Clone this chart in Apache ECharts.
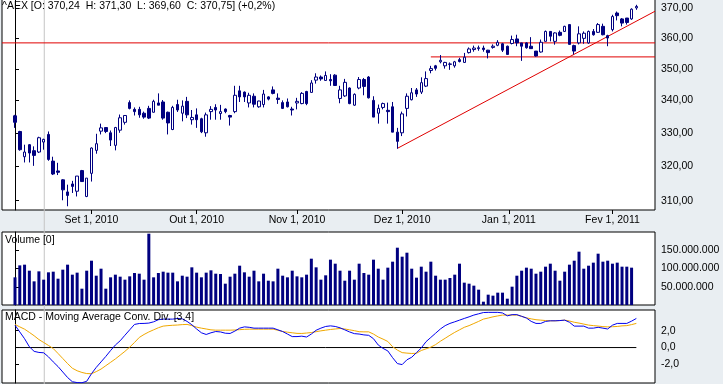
<!DOCTYPE html>
<html><head><meta charset="utf-8">
<script src="https://cdn.jsdelivr.net/npm/echarts@6.0.0/dist/echarts.min.js"></script>
<style>html,body{margin:0;padding:0;background:#e9eef2;}#c{width:723px;height:384px;}</style>
</head><body><div id="c"></div>
<script>
const dates = [
'2010-08-10','2010-08-11','2010-08-12','2010-08-13','2010-08-16','2010-08-17','2010-08-18','2010-08-19','2010-08-20','2010-08-23','2010-08-24','2010-08-25','2010-08-26','2010-08-27','2010-08-30','2010-08-31',
'2010-09-01','2010-09-02','2010-09-03','2010-09-06','2010-09-07','2010-09-08','2010-09-09','2010-09-10','2010-09-13','2010-09-14','2010-09-15','2010-09-16','2010-09-17','2010-09-20','2010-09-21','2010-09-22','2010-09-23','2010-09-24','2010-09-27','2010-09-28','2010-09-29','2010-09-30',
'2010-10-01','2010-10-04','2010-10-05','2010-10-06','2010-10-07','2010-10-08','2010-10-11','2010-10-12','2010-10-13','2010-10-14','2010-10-15','2010-10-18','2010-10-19','2010-10-20','2010-10-21','2010-10-22','2010-10-25','2010-10-26','2010-10-27','2010-10-28','2010-10-29',
'2010-11-01','2010-11-02','2010-11-03','2010-11-04','2010-11-05','2010-11-08','2010-11-09','2010-11-10','2010-11-11','2010-11-12','2010-11-15','2010-11-16','2010-11-17','2010-11-18','2010-11-19','2010-11-22','2010-11-23','2010-11-24','2010-11-25','2010-11-26','2010-11-29','2010-11-30',
'2010-12-01','2010-12-02','2010-12-03','2010-12-06','2010-12-07','2010-12-08','2010-12-09','2010-12-10','2010-12-13','2010-12-14','2010-12-15','2010-12-16','2010-12-17','2010-12-20','2010-12-21','2010-12-22','2010-12-23','2010-12-24','2010-12-27','2010-12-28','2010-12-29','2010-12-30','2010-12-31',
'2011-01-03','2011-01-04','2011-01-05','2011-01-06','2011-01-07','2011-01-10','2011-01-11','2011-01-12','2011-01-13','2011-01-14','2011-01-17','2011-01-18','2011-01-19','2011-01-20','2011-01-21','2011-01-24','2011-01-25','2011-01-26','2011-01-27','2011-01-28','2011-01-31',
'2011-02-01','2011-02-02','2011-02-03','2011-02-04','2011-02-07','2011-02-08'];

const opens = [
335.2,330.4,322.8,326.4,324.6,324.2,327.2,329.5,321.5,318.6,
316.0,312.5,314.8,312.7,318.7,311.2,317.9,324.7,330.5,331.6,
330.0,326.2,330.8,333.2,339.3,337.2,337.2,336.0,337.5,336.3,
339.2,339.5,336.3,331.0,338.7,336.0,339.7,334.0,335.5,334.3,
330.0,336.5,337.8,335.9,337.3,335.3,336.5,343.0,342.6,339.2,
341.3,338.0,338.7,341.1,343.3,340.7,339.3,339.5,337.3,339.2,
339.0,342.8,342.5,346.4,347.4,346.3,346.6,348.0,340.6,341.4,
343.9,338.5,343.9,346.6,347.4,340.0,336.0,337.8,336.9,338.0,
330.2,330.0,337.5,340.2,343.3,342.6,344.5,349.5,351.0,352.3,
351.0,351.6,351.0,353.0,352.1,355.3,356.3,356.6,356.8,356.1,
357.0,357.7,358.2,357.4,358.3,359.8,358.5,358.5,357.4,355.8,
355.5,359.0,362.3,359.0,362.0,362.3,364.6,357.6,358.5,360.0,
358.5,362.3,362.0,364.0,360.9,362.9,368.5,366.5,366.8,366.5,
370.24];
const closes = [
333.2,324.9,324.2,323.9,323.2,328.5,328.0,322.0,317.7,318.2,
313.1,311.5,314.1,317.1,315.5,316.5,325.4,326.7,331.5,330.4,
327.8,331.6,334.6,335.3,337.5,336.5,335.5,334.8,334.5,339.7,
338.5,334.5,333.0,337.8,337.0,338.2,335.5,334.7,334.0,330.3,
335.5,337.2,337.0,336.5,336.5,334.8,341.6,341.1,341.1,341.6,
338.8,339.8,342.0,340.4,342.2,340.3,337.5,338.0,337.0,339.7,
342.2,339.0,345.5,347.4,346.8,347.9,346.2,344.7,343.3,345.7,
339.0,341.9,346.6,344.4,340.8,334.8,337.5,339.0,336.5,330.2,
327.4,335.8,341.3,342.4,342.0,345.6,346.9,350.1,350.2,352.8,
352.1,351.5,352.3,352.4,353.8,356.5,356.8,356.9,356.3,355.3,
357.4,358.7,356.1,354.7,359.6,358.5,357.4,356.9,356.6,354.2,
358.7,362.3,360.7,361.8,361.0,364.0,358.0,355.8,361.5,361.7,
362.3,361.2,364.6,361.2,360.1,367.3,367.6,365.1,365.3,369.8,
370.75];
const highs = [
335.5,330.6,326.4,326.6,325.9,328.8,328.2,330.4,322.8,321.0,
316.2,314.6,315.7,317.1,318.9,316.5,325.6,329.7,332.8,331.6,
330.7,331.8,335.6,335.3,340.0,337.8,338.0,336.5,338.3,340.2,
342.2,340.1,336.5,338.3,340.2,340.0,341.1,337.0,337.5,334.6,
336.2,338.2,338.8,338.6,337.5,335.5,344.6,344.6,342.8,342.4,
342.2,339.9,343.3,341.3,344.4,342.2,340.0,340.6,338.0,340.8,
342.6,343.0,346.4,348.6,347.9,349.2,348.3,348.3,344.6,346.8,
344.1,342.2,347.4,347.1,347.7,341.3,338.7,339.3,339.3,339.5,
331.5,336.5,342.2,343.9,343.9,347.3,349.2,351.0,351.3,354.5,
352.3,352.1,352.6,353.6,355.2,357.0,357.6,357.6,357.6,356.2,
358.0,359.4,358.5,357.6,360.9,361.2,358.5,358.7,360.4,355.8,
359.6,362.6,362.3,362.0,362.6,364.2,364.6,357.9,364.0,362.3,
362.6,363.1,365.1,364.9,361.2,367.9,369.0,366.8,366.8,370.1,
371.30];
const lows = [
331.5,324.6,321.1,321.1,320.1,323.9,324.9,321.6,317.4,317.4,
310.1,308.4,312.2,311.2,315.5,311.0,315.5,323.7,329.5,329.9,
326.0,324.7,330.0,332.5,337.2,335.3,334.6,334.3,334.2,336.2,
338.5,334.0,329.5,330.8,336.4,333.5,334.5,332.5,331.5,329.9,
328.8,334.0,334.0,334.0,336.0,332.2,336.0,339.5,339.5,337.8,
337.8,337.7,337.8,340.0,341.9,338.9,337.3,337.8,335.3,337.2,
338.8,338.5,342.5,345.3,346.2,346.3,344.6,344.6,339.1,341.1,
338.8,338.3,343.5,341.6,340.6,334.8,332.8,337.2,332.8,330.2,
325.2,329.0,335.0,340.0,341.1,342.0,344.2,348.6,349.5,351.8,
350.1,349.7,350.4,352.1,352.0,355.0,355.6,355.9,355.6,353.4,
356.6,357.4,355.5,354.7,358.0,357.4,352.6,356.6,356.6,354.0,
355.3,359.0,359.0,357.9,360.7,362.1,358.0,354.7,358.0,358.2,
358.2,360.9,361.8,361.0,357.4,362.3,366.0,364.0,364.6,366.2,
369.60];
// volume in millions of shares
const volumesM = [
75.8,108.6,110.5,94,64.8,92.2,69.4,89.5,91.3,72.1,
96.8,110.5,83.1,88.6,44.7,94,121.4,80.3,99.5,44.7,
75.8,83.1,77.6,69.4,78.5,87.6,85.8,69.4,195.4,75.8,
87.6,91.3,88.6,88.6,64.8,80.3,77.6,103.2,88.6,75.8,
88.6,95,85.8,84.9,58.4,77.6,85.8,107.7,89.5,77.6,
94,64.8,85.8,66.6,64.8,99.5,80.3,75.8,94,78.5,
75.8,83.1,126.9,103.2,69.4,81.3,124.2,113.2,94,66.6,
94,69.4,113.2,87.6,83.1,124.2,99.5,69.4,102.3,118.7,
157,132.4,143.3,99.5,74.9,105,91.3,118.7,80.3,69.4,
69.4,74,83.1,113.2,61.2,58.4,53,42,9.1,28.3,
25.6,33.8,33.8,17.3,50.2,80.3,94,102.3,99.5,85.8,
91.3,105,113.2,94,66.6,91.3,110.5,121.4,146.1,99.5,
107.7,116,140.6,118.7,121.4,113.2,116,105,105,102.3,
0];
const macdLine = [
2.65,1.85,1.05,0.1,-0.45,-0.58,-0.62,-1.1,-1.7,-2.25,
-2.9,-3.55,-4.05,-4.15,-4.17,-4.0,-3.1,-2.35,-1.7,-1.05,
-0.35,0.3,0.8,1.46,2.1,2.74,2.85,2.86,2.9,3.05,
3.3,3.37,3.37,3.37,3.45,3.4,3.1,2.7,2.2,1.75,
1.55,1.75,1.9,1.85,1.7,1.67,1.95,2.3,2.45,2.4,
2.3,2.3,2.3,2.3,2.3,2.1,1.9,1.6,1.3,1.3,
1.35,1.25,1.6,2.05,2.3,2.5,2.57,2.5,2.34,2.1,
1.85,1.65,1.6,1.5,1.45,1.05,0.3,-0.1,-0.4,-1.2,
-1.9,-2.02,-1.45,-1.15,-0.6,-0.05,0.7,1.2,1.7,2.2,
2.6,2.86,3.05,3.25,3.45,3.64,3.85,4.0,4.15,4.17,
4.17,4.17,4.1,3.76,3.9,3.9,3.7,3.5,3.1,2.86,
2.86,3.1,3.17,3.17,3.2,3.25,3.0,2.54,2.54,2.54,
2.3,2.3,2.4,2.3,2.2,2.65,2.86,2.86,2.86,3.13,
3.45];
const signalLine = [
2.74,2.45,2.18,1.8,1.4,0.95,0.6,0.25,-0.12,-0.7,
-1.3,-1.9,-2.45,-2.75,-2.95,-3.08,-3.1,-2.85,-2.55,-2.15,
-1.75,-1.35,-0.9,-0.45,0.05,0.6,1.2,1.55,1.85,2.1,
2.35,2.54,2.6,2.64,2.67,2.72,2.74,2.6,2.42,2.3,
2.2,2.1,2.06,2.06,2.06,2.06,2.08,2.12,2.16,2.18,
2.18,2.18,2.18,2.18,2.18,2.05,1.9,1.82,1.75,1.68,
1.67,1.72,1.78,1.88,1.98,2.06,2.14,2.2,2.26,2.2,
2.1,2.0,1.88,1.86,1.86,1.6,1.25,1.0,0.72,0.1,
-0.3,-0.6,-0.66,-0.7,-0.68,-0.35,-0.15,0.05,0.35,0.75,
1.1,1.46,1.8,2.1,2.4,2.6,2.85,3.1,3.37,3.5,
3.64,3.75,3.85,3.85,3.85,3.85,3.7,3.52,3.4,3.3,
3.25,3.2,3.17,3.17,3.2,3.25,3.15,3.0,2.9,2.78,
2.66,2.6,2.55,2.48,2.45,2.47,2.5,2.57,2.6,2.72,
2.86];

const priceTicks = [310,320,330,340,350,360,370];
const volumeTicksM = [50,100,150];
const macdTicks = [-2,0,2];
const monthTickDates = ['2010-09-01','2010-10-01','2010-11-01','2010-12-01','2011-01-01','2011-02-01'];
const monthTickLabels = ['Set 1, 2010','Out 1, 2010','Nov 1, 2010','Dez 1, 2010','Jan 1, 2011','Fev 1, 2011'];
const resistanceLevel = 358.5;
const supportStartDate = '2010-12-09';
const supportLevel = 353.9;
const trendStartDate = '2010-11-30';
const trendStartValue = 325.3;
const trendEndValue = 369.1;   // at right edge of plot
const dayChangeText = '+0,2%';
const cursorIndex = 6.12;

// ---------- build ----------
const N = dates.length;
const xMin = -2.72, xMax = 133.9;
const pMin = Math.log(307.34), pMax = Math.log(373.29);
function datePos(ds) {
  const t = Date.parse(ds);
  for (let i = 0; i < N; i++) {
    const ti = Date.parse(dates[i]);
    if (ti === t) return i;
    if (ti > t) { const tp = Date.parse(dates[i - 1]); return i - 1 + (t - tp) / (ti - tp); }
  }
  return N - 1;
}
const tickPos = monthTickDates.map(datePos);
const fmt2 = v => v.toFixed(2).replace('.', ',');
const F = 'Liberation Sans';
const txt = {fontFamily: F, fontSize: 10.5, color: '#000'};
const last = N - 1;
const headline = '^AEX [O: ' + fmt2(opens[last]) + '  H: ' + fmt2(highs[last]) + '  L: ' + fmt2(lows[last]) +
  '  C: ' + fmt2(closes[last]) + '] (' + dayChangeText + ')';
const dots = n => String(Math.round(n)).replace(/\B(?=(\d{3})+(?!\d))/g, '.');

const gridBase = {left: 2, right: 68, show: true, backgroundColor: '#fff', borderColor: '#000', borderWidth: 1, outerBoundsMode: 'none', containLabel: false};
const hiddenX = gi => ({gridIndex: gi, type: 'value', min: xMin, max: xMax, show: false});
const yRight = (gi, min, max, ticks, formatter) => ({
  gridIndex: gi, type: 'value', position: 'right', min: min, max: max,
  axisLine: {show: true, lineStyle: {color: '#000', width: 1}},
  axisTick: {show: true, length: 4, inside: false, customValues: ticks, lineStyle: {color: '#000'}},
  axisLabel: {show: true, margin: 6, customValues: ticks, formatter: formatter, ...txt},
  splitLine: {show: false}
});
const redLine = (data) => ({type: 'line', xAxisIndex: 0, yAxisIndex: 0, data: data, showSymbol: false, silent: true, z: 2,
  lineStyle: {color: '#e00000', width: 1}, itemStyle: {color: '#e00000'}});

const option = {
  animation: false,
  backgroundColor: '#e9eef2',
  title: [
    {text: headline, left: 2, top: 1, padding: 0, textStyle: {...txt, fontWeight: 'normal'}},
    {text: 'Volume [' + volumesM[last] + ']', left: 5, top: 235, padding: 0, textStyle: {...txt, fontWeight: 'normal'}},
    {text: 'MACD - Moving Average Conv. Div. [3,4]', left: 5, top: 312, padding: 0, textStyle: {...txt, fontWeight: 'normal'}}
  ],
  grid: [
    {...gridBase, top: -1, height: 211},
    {...gridBase, top: 232, height: 73},
    {...gridBase, top: 310, height: 73},
    {left: 2, right: 68, top: 0, height: 384, show: false, outerBoundsMode: 'none', containLabel: false}
  ],
  xAxis: [
    {gridIndex: 0, type: 'value', min: xMin, max: xMax, position: 'bottom',
     axisLine: {show: false},
     axisTick: {show: true, length: 4, customValues: tickPos, lineStyle: {color: '#000'}},
     axisLabel: {show: true, margin: 5, customValues: tickPos, ...txt,
       formatter: v => { const k = tickPos.findIndex(p => Math.abs(p - v) < 1e-6); return k >= 0 ? monthTickLabels[k] : ''; }},
     splitLine: {show: false}},
    hiddenX(1), hiddenX(2), hiddenX(3)
  ],
  yAxis: [
    yRight(0, pMin, pMax, priceTicks.map(Math.log), v => fmt2(Math.exp(v))),
    yRight(1, 0, 200, volumeTicksM, v => dots(v * 1e6)),
    yRight(2, -4.2, 4.45, macdTicks, v => v.toFixed(1).replace('.', ',')),
    {gridIndex: 3, type: 'value', min: 0, max: 1, show: false}
  ],
  series: [
    {type: 'line', xAxisIndex: 3, yAxisIndex: 3, data: [[cursorIndex, 0], [cursorIndex, 1]],
     showSymbol: false, silent: true, z: 1, lineStyle: {color: '#c4c4c4', width: 1}},
    redLine([[xMin, Math.log(resistanceLevel)], [xMax, Math.log(resistanceLevel)]]),
    redLine([[datePos(supportStartDate), Math.log(supportLevel)], [xMax, Math.log(supportLevel)]]),
    redLine([[datePos(trendStartDate), Math.log(trendStartValue)], [xMax, Math.log(trendEndValue)]]),
    {type: 'candlestick', xAxisIndex: 0, yAxisIndex: 0, barWidth: 3, z: 3,
     data: dates.map((d, i) => [i, Math.log(opens[i]), Math.log(closes[i]), Math.log(lows[i]), Math.log(highs[i])]),
     encode: {x: 0, y: [1, 2, 3, 4]},
     itemStyle: {color: '#ffffff', color0: '#000080', borderColor: '#000080', borderColor0: '#000080', borderColorDoji: '#000080', borderWidth: 1}},
    {type: 'bar', xAxisIndex: 1, yAxisIndex: 1, barWidth: 3,
     data: volumesM.map((v, i) => [i, v]), itemStyle: {color: '#000080'}},
    {type: 'line', xAxisIndex: 2, yAxisIndex: 2, data: [[0, 0], [N - 1, 0]], showSymbol: false, silent: true,
     lineStyle: {color: '#000', width: 1}},
    {type: 'line', xAxisIndex: 2, yAxisIndex: 2, data: signalLine.map((v, i) => [i, v]),
     showSymbol: false, lineStyle: {color: '#f0a800', width: 1}},
    {type: 'line', xAxisIndex: 2, yAxisIndex: 2, data: macdLine.map((v, i) => [i, v]),
     showSymbol: false, lineStyle: {color: '#0000ee', width: 1}}
  ]
};
const chart = echarts.init(document.getElementById('c'), null, {renderer: 'canvas'});
chart.setOption(option);
</script></body></html>
